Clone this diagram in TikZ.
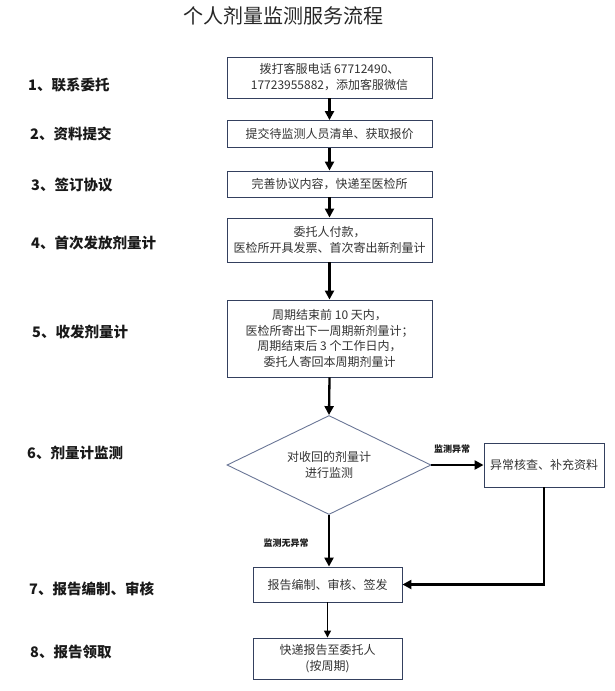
\documentclass[tikz,border=0pt]{standalone}
\usepackage{fontspec}
\setmainfont{Noto Sans CJK SC}
\usetikzlibrary{shapes.geometric,arrows.meta}
\definecolor{boxline}{HTML}{34405E}
\definecolor{dialine}{HTML}{6A7696}
\definecolor{txt}{HTML}{333333}
\tikzset{
  stepbox/.style={draw=boxline,line width=0.9pt,fill=white,rectangle,inner sep=0pt,
    text=txt,align=center,font=\fontsize{12}{16}\selectfont},
  steplabel/.style={anchor=west,inner sep=0pt,text=black!90,font=\fontsize{14.5}{16}\selectfont\bfseries},
  flow/.style={line width=2.3pt,-{Triangle[length=9pt,width=9pt]}},
  thinflow/.style={line width=1.4pt,-{Triangle[length=7pt,width=7pt]}},
  edgelabel/.style={inner sep=0pt,text=black!90,font=\fontsize{9}{10}\selectfont\bfseries}
}
\begin{document}
\begin{tikzpicture}[x=1pt,y=-1pt]
\useasboundingbox (0,0) rectangle (614,691);
\node[inner sep=0pt,text=black!85,font=\fontsize{20}{22}\selectfont] (title) at (283,16) {个人剂量监测服务流程};

\node[stepbox,minimum width=205,minimum height=41] (b1) at (329.5,77.5) {拨打客服电话 67712490、\\17723955882，添加客服微信};
\node[stepbox,minimum width=205,minimum height=27] (b2) at (329.5,134) {提交待监测人员清单、获取报价};
\node[stepbox,minimum width=205,minimum height=26] (b3) at (329.5,184) {完善协议内容，快递至医检所};
\node[stepbox,minimum width=205,minimum height=44] (b4) at (329.5,240) {委托人付款，\\医检所开具发票、首次寄出新剂量计};
\node[stepbox,minimum width=205,minimum height=77,font=\fontsize{12}{15.5}\selectfont] (b5) at (329.5,338.5) {周期结束前 10 天内，\\医检所寄出下一周期新剂量计；\\周期结束后 3 个工作日内，\\委托人寄回本周期剂量计};
\node[diamond,shape aspect=2,draw=dialine,line width=0.9pt,inner sep=0pt,minimum width=204,minimum height=99,
  text=txt,align=center,font=\fontsize{12}{16}\selectfont] (dia) at (329,465) {对收回的剂量计\\进行监测};
\node[stepbox,minimum width=120,minimum height=44] (anom) at (544,465) {异常核查、补充资料};
\node[stepbox,minimum width=149,minimum height=35] (rep) at (327.5,584.5) {报告编制、审核、签发};
\node[stepbox,minimum width=149,minimum height=41] (fin) at (327.5,658.5) {快递报告至委托人\\(按周期)};

\draw[flow] (b1) -- (b2);
\draw[flow] (b2) -- (b3);
\draw[flow] (b3) -- (b4);
\draw[flow] (b4) -- (b5);
\draw[flow] (b5.south) -- (dia.north);
\draw[flow] (dia.east) -- (anom.west);
\draw[flow] (dia.south) -- (dia.south |- rep.north);
\draw[flow] (anom.south) |- (rep.east);
\draw[thinflow] (rep) -- (fin);

\node[edgelabel] (l1) at (452,449) {监测异常};
\node[edgelabel] (l2) at (286,543) {监测无异常};

\node[steplabel] (s1) at (28,85) {1、联系委托};
\node[steplabel] (s2) at (30,134) {2、资料提交};
\node[steplabel] (s3) at (31,185) {3、签订协议};
\node[steplabel] (s4) at (31,243) {4、首次发放剂量计};
\node[steplabel] (s5) at (32,332) {5、收发剂量计};
\node[steplabel] (s6) at (27,453) {6、剂量计监测};
\node[steplabel] (s7) at (29,589) {7、报告编制、审核};
\node[steplabel] (s8) at (30,652) {8、报告领取};
\end{tikzpicture}
\end{document}
